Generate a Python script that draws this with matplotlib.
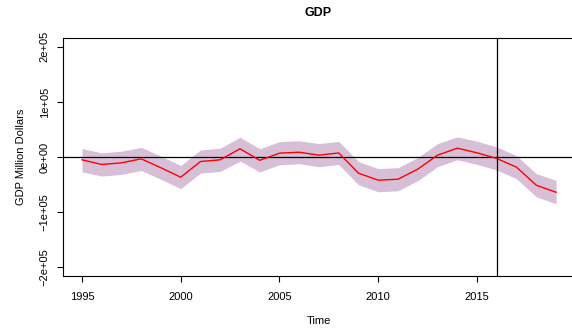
import matplotlib
matplotlib.use("Agg")
import matplotlib.pyplot as plt
import numpy as np

plt.rcParams['font.family'] = ['Liberation Sans', 'DejaVu Sans']

years = list(range(1995, 2020))
fit = [-5100, -13600, -10600, -3300, -19600, -36700, -8200, -5100, 14900, -6000,
       7000, 8700, 3300, 7400, -29400, -42100, -40300, -22100, 3300, 16000,
       7600, -2700, -18500, -51200, -64000]
upper = [15500, 7500, 10500, 17500, 1500, -15500, 12800, 15900, 36000, 15000,
         28000, 29500, 24300, 28400, -8400, -21100, -19300, -1100, 24300, 36500,
         28600, 18300, 2500, -30200, -42500]
lower = [-27000, -34600, -31600, -24300, -40600, -57500, -29200, -26100, -7600, -27000,
         -14000, -12300, -17700, -13600, -50400, -63100, -61300, -43100, -17700, -5000,
         -13400, -23700, -39500, -72200, -85000]
yticks = [-2e5, -1e5, 0, 1e5, 2e5]
ytick_labels = ["\u22122e+05", "\u22121e+05", "0e+00", "1e+05", "2e+05"]
xticks = [1995, 2000, 2005, 2010, 2015]
vline_year = 2016

W, H = 572, 329
fig = plt.figure(figsize=(W/100, H/100), dpi=100)
ax = fig.add_axes([63/W, (H-276)/H, (575-63)/W, (276-38)/H])

ax.fill_between(years, lower, upper, color='#D8BFD8', linewidth=0, zorder=1)
ax.plot(years, fit, color='red', lw=1.0, zorder=3)
ax.axhline(0, color='black', lw=0.9, zorder=2)
ax.axvline(vline_year, color='black', lw=0.9, zorder=4)

ax.set_xlim(1994.04, 2019.96)
ax.set_ylim(-2.16e5, 2.16e5)
ax.set_xticks(xticks)
ax.set_xticklabels([str(x) for x in xticks], fontsize=8)
ax.set_yticks(yticks)
ax.set_yticklabels(ytick_labels, fontsize=8, rotation=90, va='center')
ax.tick_params(direction='out', length=4.5, width=0.8, pad=5)
ax.tick_params(axis='x', pad=7)
for s in ['left', 'bottom', 'top']:
    ax.spines[s].set_linewidth(0.8)
ax.spines['right'].set_visible(False)

ax.set_xlabel('Time', fontsize=8, labelpad=10)
ax.set_ylabel('GDP Million Dollars', fontsize=8, labelpad=10)
fig.text(318/W, 1 - 13/H, 'GDP', fontsize=9, fontweight='bold', ha='center', va='center')

fig.savefig('out.png', dpi=100)
